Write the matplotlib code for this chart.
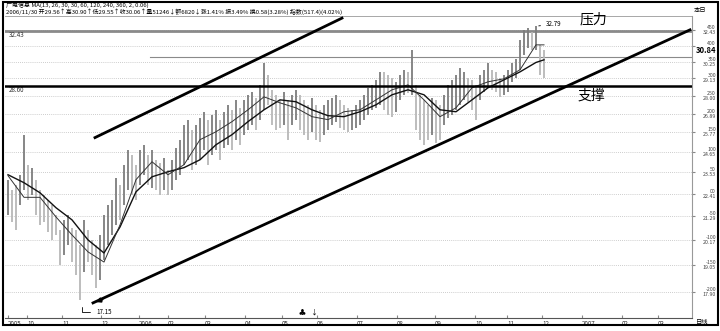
import numpy as np
import matplotlib
matplotlib.use("Agg")
import matplotlib.pyplot as plt
import matplotlib.transforms as mtransforms
from matplotlib.patches import Rectangle
from matplotlib.ticker import NullLocator

plt.rcParams['font.family'] = ['Noto Sans CJK SC', 'DejaVu Sans']

# =========================
# DATA (one bar ~ two trading days)
# =========================

high = [23.14, 22.61, 22.87, 23.40, 25.63, 23.94, 23.78, 23.14, 22.61, 22.36,
        22.11, 21.86, 21.36, 20.64, 21.12, 21.36, 20.74, 20.64, 19.95, 21.12,
        20.64, 20.18, 19.95, 20.41, 21.36, 21.86, 22.11, 23.24, 22.87, 23.94,
        24.77, 24.49, 23.94, 24.77, 25.05, 24.49, 24.77, 24.21, 24.05, 24.32,
        23.67, 24.21, 24.88, 25.34, 26.22, 26.52, 25.92, 26.22, 26.64, 27.00,
        26.52, 26.82, 27.12, 26.52, 27.00, 27.43, 27.12, 27.74, 27.24, 27.74,
        28.06, 28.25, 27.87, 28.70, 30.17, 29.36, 28.38, 28.06, 27.74, 28.25,
        27.74, 28.06, 28.38, 28.06, 27.74, 27.43, 27.87, 27.43, 27.12, 27.43,
        27.74, 27.87, 28.06, 27.74, 27.43, 27.24, 27.12, 27.43, 27.74, 28.06,
        28.51, 28.70, 29.03, 29.56, 29.56, 29.36, 29.16, 28.90, 29.36, 29.70,
        29.56, 31.08, 28.70, 28.06, 27.74, 27.43, 27.87, 27.74, 27.43, 28.06,
        28.70, 29.03, 29.36, 29.83, 29.56, 29.16, 29.03, 28.70, 29.36, 29.70,
        30.17, 29.70, 29.56, 29.16, 29.36, 29.70, 30.17, 30.45, 31.79, 32.52,
        32.67, 32.38, 32.79, 31.43, 31.08]

low = [21.36, 21.02, 20.64, 21.86, 22.61, 22.11, 22.36, 21.36, 20.88, 21.02,
       20.55, 20.18, 20.41, 19.06, 19.50, 19.95, 19.19, 18.63, 17.61, 18.76,
       19.19, 18.63, 18.09, 18.42, 19.28, 19.95, 20.41, 20.88, 21.12, 21.86,
       22.61, 22.36, 22.11, 22.87, 23.40, 22.87, 22.71, 22.61, 22.36, 22.61,
       22.36, 22.61, 23.14, 23.40, 23.94, 24.21, 23.67, 23.94, 24.21, 24.77,
       23.94, 24.49, 24.77, 24.21, 24.88, 25.05, 24.77, 25.34, 25.05, 25.63,
       25.92, 26.22, 25.92, 26.52, 27.12, 27.43, 26.22, 25.92, 26.04, 26.22,
       25.34, 26.22, 26.52, 25.92, 25.63, 25.34, 25.80, 25.34, 25.22, 25.63,
       25.92, 26.22, 26.40, 26.04, 25.92, 25.80, 25.92, 26.04, 26.22, 26.52,
       26.82, 27.12, 27.24, 27.43, 27.12, 26.82, 26.70, 27.00, 27.74, 28.06,
       28.19, 28.06, 25.92, 25.34, 25.05, 25.34, 25.63, 25.16, 25.34, 26.22,
       26.64, 26.82, 27.12, 27.43, 27.74, 27.62, 27.12, 26.52, 27.74, 28.25,
       28.51, 28.38, 28.25, 27.93, 28.06, 28.25, 28.90, 29.16, 29.70, 30.73,
       31.22, 31.08, 31.08, 29.36, 29.16]

ma_idx = [0, 4, 8, 12, 16, 20, 24, 28, 32, 36, 40, 44, 48, 52, 56, 60, 64,
          68, 72, 76, 80, 84, 88, 92, 96, 100, 104, 108, 112, 116, 120, 124,
          128, 132, 134]
ma_fast = [23.35, 22.23, 22.23, 21.26, 20.41, 19.64, 19.19, 20.88, 23.14, 24.10,
           23.40, 23.94, 25.34, 25.80, 26.40, 27.12, 27.93, 27.55, 27.24, 26.70,
           26.52, 27.00, 27.12, 27.74, 28.38, 28.70, 27.74, 26.70, 27.24, 28.51,
           28.90, 29.10, 29.70, 31.43, 31.43]
ma_slow = [23.40, 22.98, 22.46, 21.71, 21.12, 20.18, 19.59, 20.78, 22.51, 23.29,
           23.56, 23.78, 24.21, 25.05, 25.63, 26.40, 27.12, 27.74, 27.62, 27.12,
           26.76, 26.70, 27.00, 27.43, 28.06, 28.38, 28.06, 27.12, 27.00, 27.74,
           28.51, 29.03, 29.56, 30.20, 30.38]

# trend lines and levels
upper_x = [21.75, 83.5]
upper_y = [25.46, 33.4]
lower_x = [21.25, 170.5]
lower_y = [17.49, 32.52]
resist_level = 32.43
support_level = 28.60
mid_level = 30.60
mid_start = 35.5

# right axis
grid_prices = [32.49, 31.37, 30.25, 29.13, 28.01, 26.89, 25.77, 24.65,
               23.53, 22.41, 21.29, 20.17, 19.05, 17.93]
grid_pct = ["450", "400", "350", "300", "250", "200", "150", "100",
            "50", "00", "-50", "-100", "-150", "-200"]
grid_lab = ["32.43", "30.84", "30.25", "29.13", "28.00", "26.89", "25.77",
            "24.65", "23.53", "22.41", "21.29", "20.17", "19.05", "17.90"]

# dates
tick_pos = [0, 4.75, 13.5, 23.25, 32.75, 40, 49.25, 59.25, 68.5, 77.25,
            87.25, 97.25, 106.75, 116.75, 124.75, 133.5, 143.5, 153.5, 162.5]
tick_lab = ["2005", "10", "11", "12", "2006", "02", "03", "04", "05", "06",
            "07", "08", "09", "10", "11", "12", "2007", "02", "03"]

header1 = "广电信息 MA(13, 26, 30, 30, 60, 120, 240, 360, 2, 0.06)"
header2 = ("2006/11/30 开29.56↑高30.90↑低29.55↑收30.06↑量51246↓额6820↓"
           "涨1.41% 振3.49% 换0.58(3.28%) 指数(517.4)(4.02%)")

# =========================
# PLOT
# =========================

W, H = 720, 331
fig = plt.figure(figsize=(7.2, 3.31), dpi=100)
ax = fig.add_axes([5 / W, 1 - 318 / H, 687 / W, 302 / H])
ax.set_yscale('log')
ax.set_ylim(16.90, 33.56)
ax.set_xlim(-0.75, 171)

for p in grid_prices:
    ax.axhline(p, color='#bdbdbd', lw=0.6, ls=(0, (1, 1.5)), zorder=0)

idx = np.arange(len(high))
mid = (np.array(high) + np.array(low)) / 2
up = np.concatenate([[True], mid[1:] >= mid[:-1]])
colors = np.where(up, '#7d7d7d', '#b8b8b8')
ax.vlines(idx, low, high, colors=colors, lw=1.3, zorder=2)

ax.plot(ma_idx, ma_slow, color='#111111', lw=1.0, zorder=3)
ax.plot(ma_idx, ma_fast, color='#333333', lw=0.7, zorder=3)

# levels
ax.axhline(resist_level, color='#8a8a8a', lw=2.0, zorder=1)
ax.plot([mid_start, 171], [mid_level, mid_level], color='#8a8a8a', lw=0.8, zorder=1)
ax.axhline(support_level, color='black', lw=1.8, zorder=4)

# trend lines
ax.plot(upper_x, upper_y, color='black', lw=2.0, zorder=4)
ax.plot(lower_x, lower_y, color='black', lw=2.0, zorder=4)
ax.annotate("", xy=(lower_x[0], lower_y[0]), xytext=(lower_x[0] + 3, 17.66),
            arrowprops=dict(arrowstyle='-|>', color='black', lw=1.5,
                            mutation_scale=6), zorder=5)

ax.text(0.3, resist_level, "32.43", fontsize=4.5, va='top', ha='left', color='#333')
ax.text(0.3, support_level, "28.60", fontsize=4.5, va='top', ha='left', color='#333')

# high / low marks
ax.annotate("32.79", xy=(132, 32.79), xytext=(134.5, 32.95), fontsize=4.5,
            va='center', ha='left',
            arrowprops=dict(arrowstyle='-', color='black', lw=0.6))
ax.annotate("17.15", xy=(18.5, 17.45), xytext=(22, 17.12), fontsize=4.5,
            va='center', ha='left',
            arrowprops=dict(arrowstyle='-', color='black', lw=0.6,
                            connectionstyle='angle,angleA=0,angleB=90,rad=0'))
ax.text(73.5, 17.1, "♣", fontsize=5, ha='center', va='center')
ax.text(76.5, 17.1, "↓", fontsize=5, ha='center', va='center')

# axes cosmetics
ax.yaxis.set_minor_locator(NullLocator())
ax.set_yticks(grid_prices)
ax.tick_params(axis='y', which='both', left=False, right=True, labelleft=False,
               labelright=False, direction='out', length=2, color='#888')
ax.set_xticks(tick_pos)
ax.set_xticklabels(tick_lab, fontsize=4.5, ha='left', color='#333')
ax.tick_params(axis='x', length=2, direction='in', pad=1.5, color='#888')
ax.spines['left'].set_visible(False)
ax.spines['top'].set_color('#999999')
ax.spines['top'].set_linewidth(0.6)
ax.spines['right'].set_color('#999999')
ax.spines['right'].set_linewidth(0.8)
ax.spines['bottom'].set_color('#555555')
ax.spines['bottom'].set_linewidth(0.8)

trans = mtransforms.blended_transform_factory(ax.transAxes, ax.transData)
xr = (716 - 5) / 687
for p, pc, lab in zip(grid_prices, grid_pct, grid_lab):
    ax.text(xr, p, pc, transform=trans, fontsize=3.8, ha='right', va='bottom',
            color='#444', clip_on=False)
    if lab == "30.84":
        ax.text(xr, p, lab, transform=trans, fontsize=5.5, ha='right', va='top',
                fontweight='bold', color='black', clip_on=False)
    else:
        ax.text(xr, p, lab, transform=trans, fontsize=3.8, ha='right', va='top',
                color='#444', clip_on=False)

# labels
fig.text(580 / W, 1 - 19 / H, "压力", fontsize=10, ha='left', va='center')
fig.text(578 / W, 1 - 96 / H, "支撑", fontsize=10, ha='left', va='center')

fig.text(6 / W, 1 - 5 / H, header1, fontsize=4.3, ha='left', va='center')
fig.text(6 / W, 1 - 11.5 / H, header2, fontsize=4.3, ha='left', va='center')
fig.text(694 / W, 1 - 10 / H, "本日", fontsize=4.5, ha='left', va='center')
fig.text(696 / W, 1 - 322 / H, "日线", fontsize=4.5, ha='left', va='center')

fig.add_artist(Rectangle((3 / W, 1 - 325 / H), 715 / W, 323.5 / H, fill=False,
                         lw=1.5, edgecolor='black', transform=fig.transFigure))

fig.savefig("out.png", dpi=100)
